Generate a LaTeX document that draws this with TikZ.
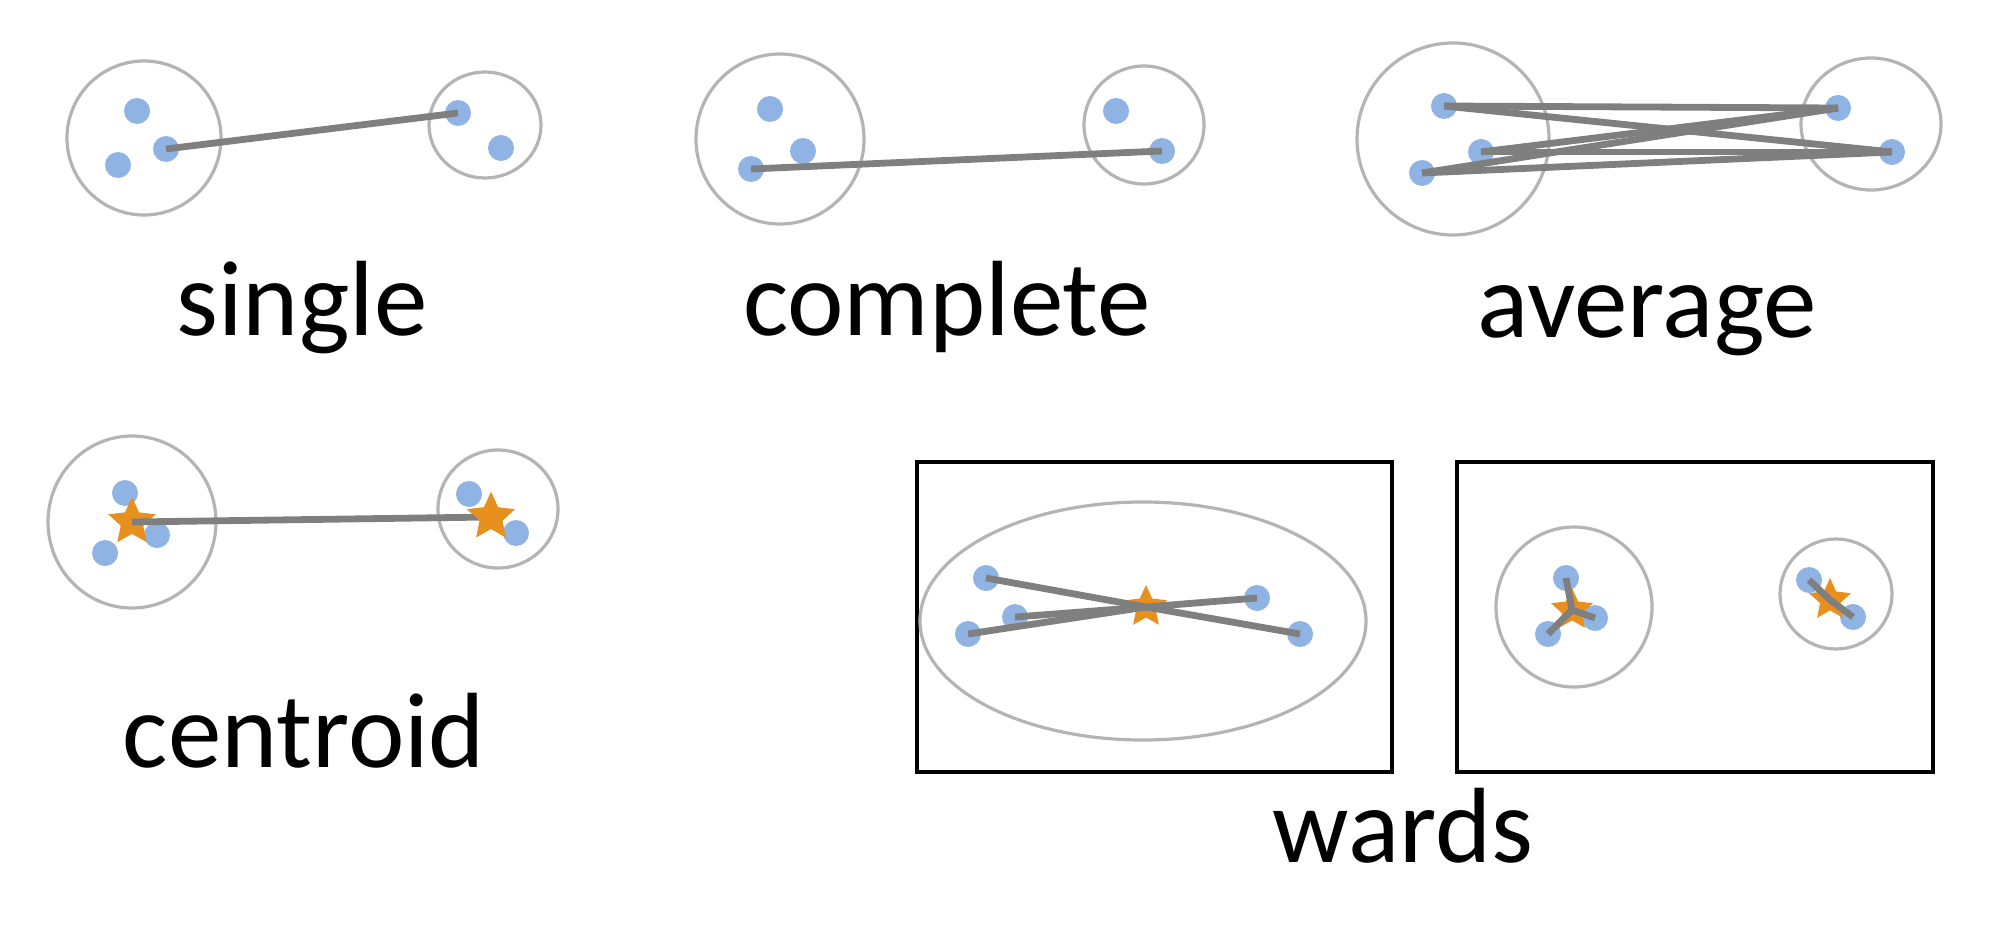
\documentclass[tikz,border=0pt]{standalone}
\usepackage{fontspec}
\setmainfont{Carlito}
\usetikzlibrary{shapes.geometric}
\definecolor{dotblue}{HTML}{8FB4E3}
\definecolor{starorange}{HTML}{E8901E}
\definecolor{linegray}{HTML}{7F7F7F}
\definecolor{clusgray}{HTML}{B4B4B4}
\begin{document}
\begin{tikzpicture}[x=0.5pt,y=-0.5pt,
 pt/.style={circle,fill=dotblue,inner sep=0,minimum size=13pt},
 cen/.style={star,star points=5,star point ratio=2.1,fill=starorange,inner sep=0,minimum size=25pt},
 link/.style={draw=linegray,line width=3.4pt},
 clus/.style={ellipse,draw=clusgray,line width=1.6pt,inner sep=0},
 lab/.style={anchor=base,inner sep=0,font=\fontsize{53.5}{60}\selectfont},
 panel/.style={draw=black,line width=2.2pt}]
\useasboundingbox (0,0) rectangle (2000,936);

% ---------- single ----------
\node[clus,minimum width=77pt,minimum height=77pt] (sA) at (144,138) {};
\node[clus,minimum width=56pt,minimum height=53pt] (sB) at (485,125) {};
\node[pt] (s1) at (137,111) {};
\node[pt] (s2) at (166,149) {};
\node[pt] (s3) at (118,165) {};
\node[pt] (s4) at (458,113) {};
\node[pt] (s5) at (501,148) {};
\draw[link] (s2.center) -- (s4.center);
\node[lab] (tsingle) at (302,335) {single};

% ---------- complete ----------
\node[clus,minimum width=84pt,minimum height=85pt] (cA) at (780,139) {};
\node[clus,minimum width=60pt,minimum height=59pt] (cB) at (1144,125) {};
\node[pt] (c1) at (770,109) {};
\node[pt] (c2) at (803,151) {};
\node[pt] (c3) at (751,169) {};
\node[pt] (c4) at (1116,111) {};
\node[pt] (c5) at (1162,151) {};
\draw[link] (c3.center) -- (c5.center);
\node[lab] (tcomplete) at (947,335) {complete};

% ---------- average ----------
\node[clus,minimum width=96pt,minimum height=96pt] (aA) at (1453,139) {};
\node[clus,minimum width=70pt,minimum height=66pt] (aB) at (1871,124) {};
\node[pt] (a1) at (1444,106) {};
\node[pt] (a2) at (1481,152) {};
\node[pt] (a3) at (1422,173) {};
\node[pt] (a4) at (1838,108) {};
\node[pt] (a5) at (1892,152) {};
\foreach \i in {a1,a2,a3}{
  \foreach \j in {a4,a5}{
    \draw[link] (\i.center) -- (\j.center);
  }
}
\node[lab] (taverage) at (1647,337) {average};

% ---------- centroid ----------
\node[clus,minimum width=84pt,minimum height=86pt] (kA) at (132,522) {};
\node[clus,minimum width=60pt,minimum height=59pt] (kB) at (498,509) {};
\node[pt] (k1) at (125,493) {};
\node[pt] (k2) at (157,535) {};
\node[pt] (k3) at (105,553) {};
\node[pt] (k4) at (469,494) {};
\node[pt] (k5) at (516,533) {};
\node[cen] (kS1) at (132,522) {};
\node[cen] (kS2) at (491,517) {};
\draw[link] (kS1.center) -- (kS2.center);
\node[cen] at (kS2.center) {};
\node[lab] (tcentroid) at (304,767) {centroid};

% ---------- wards ----------
\draw[panel] (917,462) rectangle (1392,772);
\draw[panel] (1457,462) rectangle (1933,772);
\node[clus,minimum width=223pt,minimum height=119pt] (wA) at (1143,621) {};
\node[pt] (w1) at (986,578) {};
\node[pt] (w2) at (1015,617) {};
\node[pt] (w3) at (968,634) {};
\node[pt] (w4) at (1257,598) {};
\node[pt] (w5) at (1300,634) {};
\node[cen,minimum size=22pt] (wS) at (1146,607) {};
\foreach \i in {w1,w2,w3,w4,w5}{
  \draw[link] (\i.center) -- (wS.center);
}

\node[clus,minimum width=78pt,minimum height=80pt] (vA) at (1574,607) {};
\node[clus,minimum width=56pt,minimum height=55pt] (vB) at (1836,594) {};
\node[pt] (v1) at (1566,578) {};
\node[pt] (v2) at (1595,618) {};
\node[pt] (v3) at (1548,634) {};
\node[pt] (v4) at (1809,580) {};
\node[pt] (v5) at (1853,617) {};
\node[cen,minimum size=22pt] (vS1) at (1572,610) {};
\node[cen,minimum size=22pt] (vS2) at (1830,600) {};
\foreach \i in {v1,v2,v3}{
  \draw[link] (\i.center) -- (vS1.center);
}
\foreach \i in {v4,v5}{
  \draw[link] (\i.center) -- (vS2.center);
}
\node[lab] (twards) at (1403,862) {wards};
\end{tikzpicture}
\end{document}
